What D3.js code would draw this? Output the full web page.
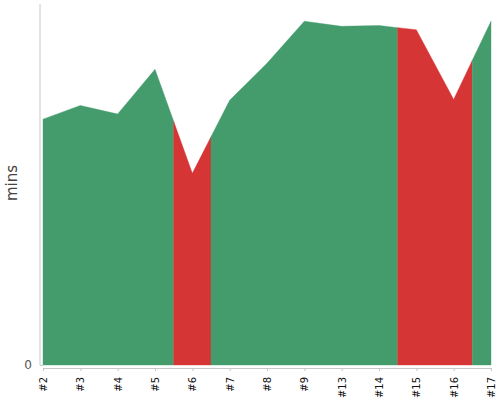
<!DOCTYPE html>
<html>
<head>
<meta charset="utf-8">
<script src="https://cdn.jsdelivr.net/npm/d3@7"></script>
<style>
html,body{margin:0;padding:0;background:#fff;}
svg{display:block;font-family:"DejaVu Sans",sans-serif;}
</style>
</head>
<body>
<svg id="chart" width="500" height="400"></svg>
<script>
const categories = ["#2","#3","#4","#5","#6","#7","#8","#9","#13","#14","#15","#16","#17"];
const minutes = [28.6, 30.2, 29.2, 34.4, 22.3, 30.8, 35.1, 40.0, 39.4, 39.5, 39.0, 30.9, 40.0];
const status = ["ok","ok","ok","ok","bad","ok","ok","ok","ok","ok","bad","bad","ok"];
const yTicks = [0];
const yLabel = "mins";

const colors = {ok: "#449c6d", bad: "#d63536"};

const svg = d3.select("#chart");
const x = d3.scalePoint().domain(categories).range([43, 491]);
const y = d3.scaleLinear().domain([0, d3.max(minutes) * 1.05]).range([365, 4]);

const pts = categories.map((c, i) => ({x: x(c), v: minutes[i], s: status[i]}));

const area = d3.area().x(d => d.x).y0(y(0)).y1(d => y(d.v));

// group consecutive points with same status into runs
const runs = [];
pts.forEach((p, i) => {
  if (!runs.length || runs[runs.length - 1].s !== p.s) runs.push({s: p.s, idx: []});
  runs[runs.length - 1].idx.push(i);
});

runs.forEach(r => {
  const first = r.idx[0], last = r.idx[r.idx.length - 1];
  const seg = [];
  if (first > 0) {
    const q = pts[first - 1], p = pts[first];
    seg.push({x: (q.x + p.x) / 2, v: (q.v + p.v) / 2});
  }
  r.idx.forEach(i => seg.push({x: pts[i].x, v: pts[i].v}));
  if (last < pts.length - 1) {
    const q = pts[last + 1], p = pts[last];
    seg.push({x: (q.x + p.x) / 2, v: (q.v + p.v) / 2});
  }
  svg.append("path")
    .attr("d", area(seg))
    .attr("fill", colors[r.s])
    .attr("stroke", colors[r.s])
    .attr("stroke-width", 0.4);
});

// y axis
const yAxis = d3.axisLeft(y).tickValues(yTicks).tickSize(-3).tickPadding(8);
const gy = svg.append("g").attr("transform", "translate(40,0)").call(yAxis);
gy.select(".domain").attr("stroke", "#c8c8c8").attr("d", "M0,4V365");
gy.selectAll(".tick line").attr("stroke", "#c8c8c8");
gy.selectAll(".tick text").attr("font-size", 12).attr("fill", "#555").attr("font-family", "DejaVu Sans, sans-serif");

// x axis
const xAxis = d3.axisBottom(x).tickSize(3).tickSizeOuter(0);
const gx = svg.append("g").attr("transform", "translate(0,368)").call(xAxis);
gx.select(".domain").attr("stroke", "#c8c8c8");
gx.selectAll(".tick line").attr("stroke", "#c8c8c8");
gx.selectAll(".tick text")
  .attr("font-size", 10)
  .attr("fill", "#111")
  .attr("font-family", "DejaVu Sans, sans-serif")
  .attr("transform", "rotate(-90)")
  .attr("text-anchor", "end")
  .attr("dy", "0.35em")
  .attr("x", -9)
  .attr("y", 0);

svg.append("text")
  .attr("transform", "translate(17,183) rotate(-90)")
  .attr("text-anchor", "middle")
  .attr("font-size", 15)
  .attr("fill", "#444")
  .text(yLabel);
</script>
</body>
</html>
